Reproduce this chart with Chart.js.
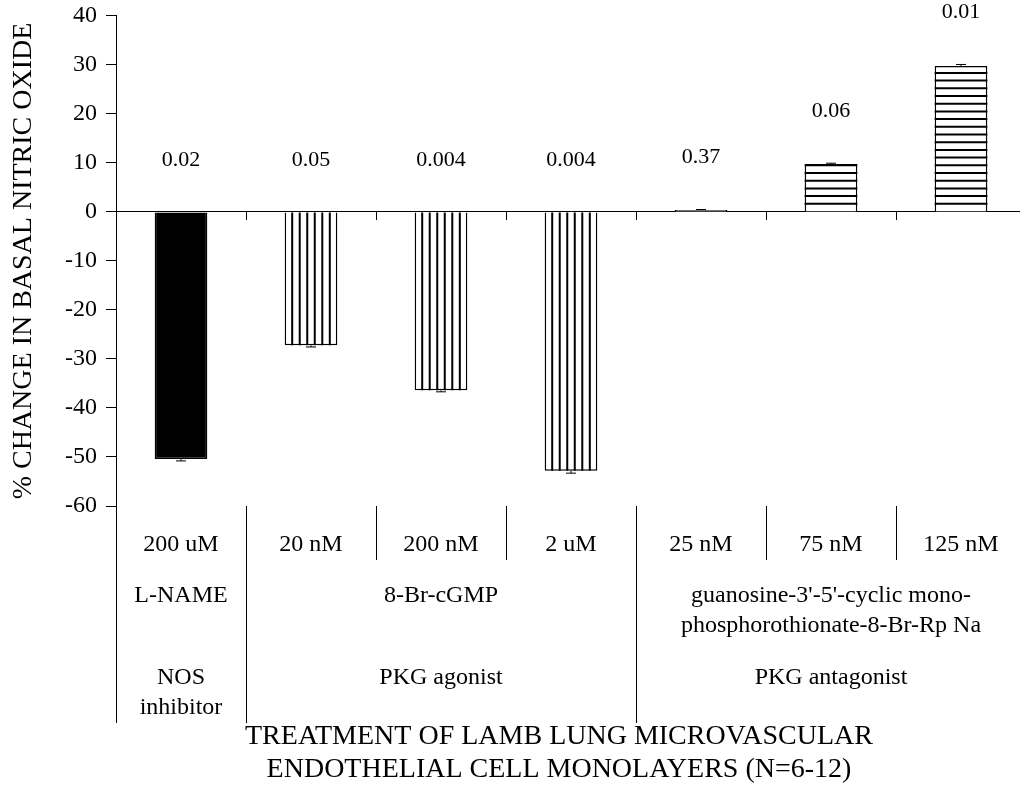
<!DOCTYPE html>
<html>
<head>
<meta charset="utf-8">
<script src="https://cdn.jsdelivr.net/npm/chart.js@4.4.1/dist/chart.umd.min.js"></script>
<style>
  html, body { margin: 0; padding: 0; background: #fff; overflow: hidden; }
  #wrap { width: 1020px; height: 787px; overflow: hidden; }
  canvas { display: block; }
</style>
</head>
<body>
<div id="wrap"><canvas id="chart" width="1030" height="787"></canvas></div>
<script>
// values
const doses = ["200 uM", "20 nM", "200 nM", "2 uM", "25 nM", "75 nM", "125 nM"];
const changes = [-50.4, -27.2, -36.4, -52.8, 0.4, 9.8, 29.8];
const sems = [0.4, 0.35, 0.3, 0.5, 0.1, 0.15, 0.3];
const pValues = ["0.02", "0.05", "0.004", "0.004", "0.37", "0.06", "0.01"];

const groupSizes = [1, 3, 3];
const agentNames = [["L-NAME"], ["8-Br-cGMP"], ["guanosine-3'-5'-cyclic mono-", "phosphorothionate-8-Br-Rp Na"]];
const agentClasses = [["NOS", "inhibitor"], ["PKG agonist"], ["PKG antagonist"]];
const yTitle = "% CHANGE IN BASAL NITRIC OXIDE";
const xTitle = ["TREATMENT OF LAMB LUNG MICROVASCULAR", "ENDOTHELIAL CELL MONOLAYERS (N=6-12)"];

const SERIF = '"Liberation Serif", "Times New Roman", serif';
const groupFill = ["solid", "vertical", "horizontal"];

// which group each bar belongs to
const barGroup = [];
groupSizes.forEach((n, g) => { for (let k = 0; k < n; k++) barGroup.push(g); });

function vline(ctx, x, y0, y1) {
  const xx = Math.round(x) + 0.5;
  ctx.beginPath();
  ctx.moveTo(xx, y0);
  ctx.lineTo(xx, y1);
  ctx.stroke();
}

// hatching, error bars and p values on the bars
const barExtras = {
  id: "barExtras",
  afterDatasetsDraw(chart) {
    const ctx = chart.ctx;
    const y = chart.scales.y;
    const meta = chart.getDatasetMeta(0);
    ctx.save();
    meta.data.forEach((bar, i) => {
      const p = bar.getProps(["x", "y", "base", "width"], true);
      const l = p.x - p.width / 2, r = p.x + p.width / 2;
      const top = Math.min(p.y, p.base), bot = Math.max(p.y, p.base);
      const fill = groupFill[barGroup[i]];

      ctx.strokeStyle = "#000";
      ctx.lineWidth = 2;
      ctx.beginPath();
      if (fill === "vertical") {
        for (let k = 1; k < 7; k++) {
          const xx = l + k * p.width / 7;
          ctx.moveTo(xx, top);
          ctx.lineTo(xx, bot);
        }
      } else if (fill === "horizontal") {
        for (let yy = p.base - 7.7; yy > top + 1; yy -= 7.7) {
          ctx.moveTo(l, yy);
          ctx.lineTo(r, yy);
        }
      }
      ctx.stroke();

      // one-sided error bar
      const v = changes[i], e = sems[i];
      const end = y.getPixelForValue(v + Math.sign(v) * e);
      ctx.lineWidth = 1;
      ctx.beginPath();
      ctx.moveTo(p.x, p.y);
      ctx.lineTo(p.x, end);
      ctx.moveTo(p.x - 5, end);
      ctx.lineTo(p.x + 5, end);
      ctx.stroke();

      // p value above the bar (or above zero for negative bars)
      const ty = y.getPixelForValue(v > 0 ? v + e : 0) - 52;
      ctx.fillStyle = "#000";
      ctx.font = "22px " + SERIF;
      ctx.textAlign = "center";
      ctx.textBaseline = "middle";
      ctx.fillText(pValues[i], p.x, ty);
    });
    ctx.restore();
  }
};

// multi-level category labels under the plot
const groupLabels = {
  id: "groupLabels",
  afterDraw(chart) {
    const ctx = chart.ctx;
    const x = chart.scales.x;
    const area = chart.chartArea;
    const bottom = area.bottom;
    const half = (x.getPixelForValue(1) - x.getPixelForValue(0)) / 2;

    ctx.save();
    ctx.strokeStyle = "#000";
    ctx.lineWidth = 1;
    ctx.fillStyle = "#000";
    ctx.textAlign = "center";
    ctx.textBaseline = "middle";
    ctx.font = "24px " + SERIF;

    doses.forEach((d, i) => ctx.fillText(d, x.getPixelForValue(i), bottom + 39));

    let start = 0;
    groupSizes.forEach((n, g) => {
      const left = x.getPixelForValue(start) - half;
      const right = x.getPixelForValue(start + n - 1) + half;
      vline(ctx, left, bottom, bottom + 217);
      for (let k = 1; k < n; k++) vline(ctx, x.getPixelForValue(start + k) - half, bottom, bottom + 54);
      const cx = (left + right) / 2;
      agentNames[g].forEach((t, j) => ctx.fillText(t, cx, bottom + 90 + j * 30));
      agentClasses[g].forEach((t, j) => ctx.fillText(t, cx, bottom + 172 + j * 30));
      start += n;
    });

    ctx.font = "28px " + SERIF;
    const tx = (area.left + area.right) / 2 - 12;
    xTitle.forEach((t, j) => ctx.fillText(t, tx, bottom + 231 + j * 33));
    ctx.restore();
  }
};

new Chart(document.getElementById("chart"), {
  type: "bar",
  data: {
    labels: doses,
    datasets: [{
      data: changes,
      backgroundColor: barGroup.map((g) => (groupFill[g] === "solid" ? "#000" : "#fff")),
      borderColor: "#000",
      borderWidth: 1.5,
      barPercentage: 0.405,
      categoryPercentage: 1
    }]
  },
  options: {
    responsive: false,
    devicePixelRatio: 1,
    animation: false,
    events: [],
    layout: { padding: { left: 0, right: 4, top: 1, bottom: 281 } },
    plugins: { legend: { display: false }, tooltip: { enabled: false } },
    scales: {
      x: {
        type: "category",
        position: { y: 0 },
        grid: { offset: true, drawOnChartArea: false, drawTicks: true, tickLength: 8, color: "#000" },
        border: { display: true, color: "#000", width: 1 },
        ticks: { display: false }
      },
      y: {
        min: -60,
        max: 40,
        afterFit(scale) { scale.width = 116; },
        ticks: { stepSize: 10, padding: 9, color: "#000", font: { family: SERIF, size: 24, lineHeight: 0.58 } },
        grid: { drawOnChartArea: false, drawTicks: true, tickLength: 10, color: "#000" },
        border: { display: true, color: "#000", width: 1 },
        title: {
          display: true,
          text: yTitle,
          color: "#000",
          padding: { top: 7, bottom: 0 },
          font: { family: SERIF, size: 28 }
        }
      }
    }
  },
  plugins: [barExtras, groupLabels]
});
</script>
</body>
</html>
